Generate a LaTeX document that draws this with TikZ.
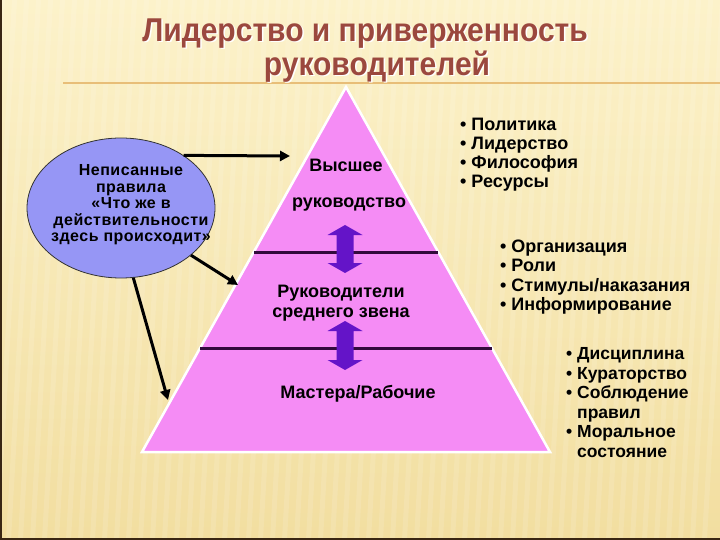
\documentclass[tikz,border=0pt]{standalone}
\usepackage{fontspec}
\setmainfont{Liberation Sans}
\usetikzlibrary{arrows.meta,shapes.geometric}
\definecolor{bgtop}{RGB}{252,242,202}
\definecolor{bgbot}{RGB}{242,222,160}
\definecolor{rulecol}{RGB}{232,190,120}
\definecolor{titlecol}{RGB}{155,72,62}
\definecolor{pyrpink}{RGB}{245,140,245}
\definecolor{ellblue}{RGB}{150,150,245}
\definecolor{divcol}{RGB}{50,10,60}
\definecolor{arrpurple}{RGB}{100,20,200}
\tikzset{
  titletext/.style={font=\fontsize{30}{30}\selectfont\bfseries, text=titlecol, inner sep=0pt},
  titleshadow/.style={font=\fontsize{30}{30}\selectfont\bfseries, text=white, inner sep=0pt},
  pyrtext/.style={font=\fontsize{18}{20}\selectfont\bfseries, align=center, text=black},
  listtext/.style={font=\fontsize{18}{19}\selectfont\bfseries, align=left, anchor=north west, text=black, inner sep=0pt},
  elltext/.style={font=\fontsize{16}{16.5}\selectfont\bfseries\addfontfeatures{LetterSpace=3}, align=center, inner sep=0pt},
  conn/.style={draw=black, line width=3pt, -{Triangle[length=10pt,width=10pt]}},
  divline/.style={draw=divcol, line width=3pt},
  dblarrow/.style={fill=arrpurple},
}
\begin{document}
\begin{tikzpicture}[x=1pt,y=-1pt]
\useasboundingbox (0,0) rectangle (720,540);
% background
\shade[top color=bgtop, bottom color=bgbot] (0,0) rectangle (720,540);
\foreach \i in {0,12,...,740} {
  \fill[white, opacity=0.12] (\i,0) -- (\i+5,0) -- (\i-25,540) -- (\i-30,540) -- cycle;
}
\draw[rulecol, line width=2pt] (63,83) -- (720,83);
\draw[black!70!brown, line width=2pt] (1,0) -- (1,540);
\draw[black!70!brown, line width=1.5pt] (0,539) -- (720,539);
% title
\node[titleshadow] at (366.5,35) {\scalebox{1}[1.1]{Лидерство и приверженность}};
\node[titletext] (t1) at (365,33.5) {\scalebox{1}[1.1]{Лидерство и приверженность}};
\node[titleshadow] at (378.5,68) {\scalebox{1}[1.1]{руководителей}};
\node[titletext] (t2) at (377,66.5) {\scalebox{1}[1.1]{руководителей}};
% pyramid
\coordinate (apex) at (346,87);
\coordinate (bl) at (142,452);
\coordinate (br) at (550,452);
\fill[pyrpink] (apex) -- (br) -- (bl) -- cycle;
\draw[white, line width=2.5pt, line join=miter] (apex) -- (br) -- (bl) -- cycle;
\draw[divline] (254,252) -- (438,252);
\draw[divline] (200,348) -- (492,348);
% double arrows
\fill[dblarrow] (345,225) -- (362.5,235) -- (353.5,235) -- (353.5,263) -- (362.5,263) -- (345,273)
  -- (327.5,263) -- (336.5,263) -- (336.5,235) -- (327.5,235) -- cycle;
\fill[dblarrow] (345,321) -- (362.5,331) -- (353.5,331) -- (353.5,360) -- (362.5,360) -- (345,370)
  -- (327.5,360) -- (336.5,360) -- (336.5,331) -- (327.5,331) -- cycle;
% pyramid texts
\node[pyrtext] (p1) at (346,165) {Высшее};
\node[pyrtext] (p2) at (349,205) {руководство};
\node[pyrtext] (p3) at (341,303) {Руководители\\среднего звена};
\node[pyrtext] (p4) at (358,394) {Мастера/Рабочие};
% ellipse
\node[ellipse, draw=black!80, line width=0.8pt, fill=ellblue, minimum width=188pt, minimum height=140pt, inner sep=0pt] (ell) at (121,208) {};
\node[elltext] at (131,205) {Неписанные\\правила\\«Что же в\\действительности\\здесь происходит»};
% connectors
\coordinate (c1) at (290,156);
\coordinate (c2) at (238,285);
\coordinate (c3) at (168,400);
\draw[conn] (ell.40) -- (c1);
\draw[conn] (ell.-34) -- (c2);
\draw[conn] (ell.-80) -- (c3);
% lists
\node[listtext] (l1) at (460,117.5) {• Политика\\• Лидерство\\• Философия\\• Ресурсы};
\node[listtext, font=\fontsize{18}{19.5}\selectfont\bfseries] (l2) at (500,239.5) {• Организация\\• Роли\\• Стимулы/наказания\\• Информирование};
\node[listtext, font=\fontsize{17.5}{19.5}\selectfont\bfseries] (l3) at (566,347.5) {• Дисциплина\\• Кураторство\\• Соблюдение\\\phantom{• }правил\\• Моральное\\\phantom{• }состояние};
\end{tikzpicture}
\end{document}
